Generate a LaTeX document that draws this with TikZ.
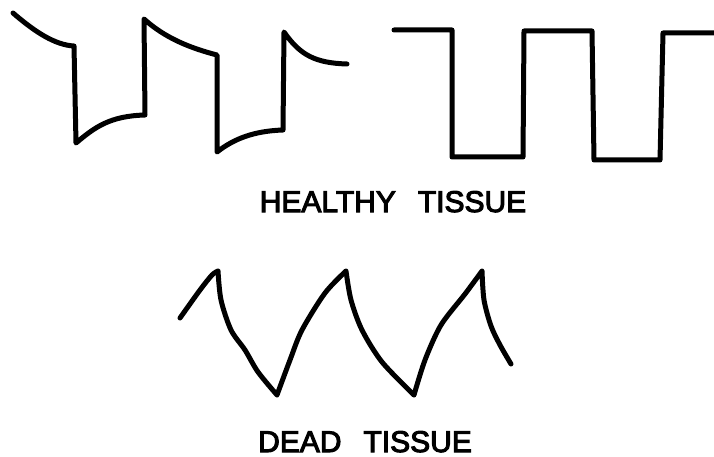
\documentclass[tikz,border=0pt]{standalone}
\usepackage{fontspec}
\setmainfont{Liberation Sans}[FakeBold=3.5]
\begin{document}
\begin{tikzpicture}[x=1pt,y=-1pt,
 w/.style={line width=5pt,line cap=round,line join=round},
 lbl/.style={font=\fontsize{30}{32}\selectfont,inner sep=0pt,anchor=base}]
\useasboundingbox (0,0) rectangle (714,457);
% healthy tissue, two traces
\draw[w] (13,13) .. controls (35,32) and (55,45) .. (74,46) -- (76,143)
 .. controls (95,127) and (110,116) .. (145,115) -- (144,19)
 .. controls (165,38) and (190,48) .. (217,55) -- (217,152)
 .. controls (235,138) and (255,131) .. (283,130) -- (284,32)
 .. controls (300,55) and (315,63) .. (347,64);
\draw[w] (394,30) -- (452,30) -- (452,157) -- (523,157) -- (524,31) -- (592,31)
 -- (594,160) -- (660,160) -- (663,33) -- (716,33);
\node[lbl] (healthy) at (393,212) {HEALTHY\hspace{22pt}TISSUE};
% dead tissue
\draw[w] plot[smooth,tension=0.5] coordinates {(180,318) (200,290) (212,275) (218,271)}
 plot[smooth,tension=0.5] coordinates {(218,271) (221,300) (231,330) (245,350) (258,372) (277,395)}
 plot[smooth,tension=0.5] coordinates {(277,395) (290,360) (302,330) (325,293) (346,271)}
 plot[smooth,tension=0.5] coordinates {(346,271) (351,300) (362,330) (382,362) (414,395)}
 plot[smooth,tension=0.5] coordinates {(414,395) (425,360) (441,325) (465,294) (482,271)}
 plot[smooth,tension=0.5] coordinates {(482,271) (484,300) (491,326) (500,345) (511,364)};
\node[lbl] (dead) at (365,452) {DEAD\hspace{22pt}TISSUE};
\end{tikzpicture}
\end{document}
